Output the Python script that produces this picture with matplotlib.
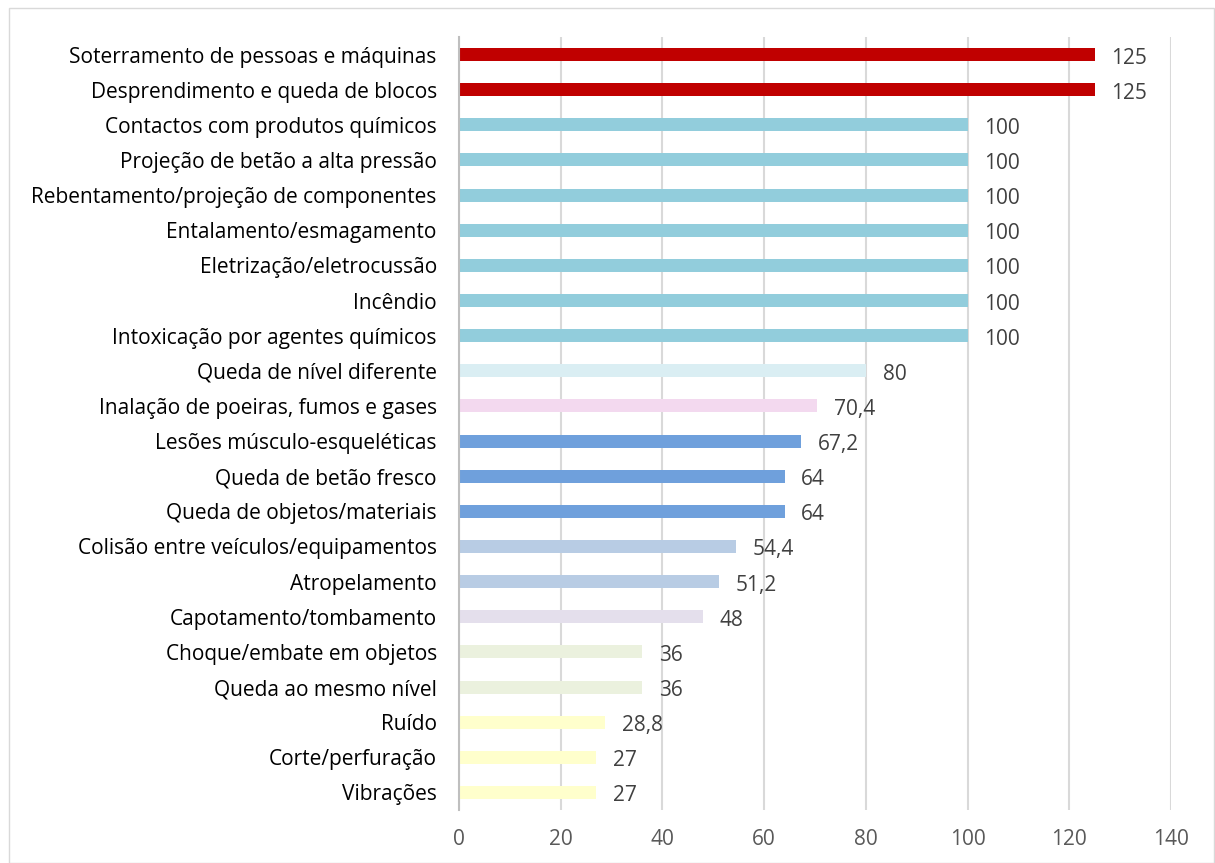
import matplotlib.pyplot as plt
from matplotlib.patches import Rectangle

plt.rcParams['font.family'] = ['Open Sans', 'DejaVu Sans']

riscos = [
    "Soterramento de pessoas e máquinas",
    "Desprendimento e queda de blocos",
    "Contactos com produtos químicos",
    "Projeção de betão a alta pressão",
    "Rebentamento/projeção de componentes",
    "Entalamento/esmagamento",
    "Eletrização/eletrocussão",
    "Incêndio",
    "Intoxicação por agentes químicos",
    "Queda de nível diferente",
    "Inalação de poeiras, fumos e gases",
    "Lesões músculo-esqueléticas",
    "Queda de betão fresco",
    "Queda de objetos/materiais",
    "Colisão entre veículos/equipamentos",
    "Atropelamento",
    "Capotamento/tombamento",
    "Choque/embate em objetos",
    "Queda ao mesmo nível",
    "Ruído",
    "Corte/perfuração",
    "Vibrações",
]
valores = [125, 125, 100, 100, 100, 100, 100, 100, 100, 80, 70.4, 67.2,
           64, 64, 54.4, 51.2, 48, 36, 36, 28.8, 27, 27]
cores = ["#C00000", "#C00000"] + ["#92CDDC"] * 7 + ["#DAEEF3", "#F3D9EF",
         "#6FA0DC", "#6FA0DC", "#6FA0DC", "#B8CCE4", "#B8CCE4", "#E4DFEC",
         "#EBF1DE", "#EBF1DE", "#FFFFCC", "#FFFFCC", "#FFFFCC"]

fig = plt.figure(figsize=(12.15, 8.63), dpi=100)
ax = fig.add_axes([0.3778, 0.0614, 0.586, 0.8957])

pos = list(range(len(riscos)))
ax.barh(pos, valores, height=0.37, color=cores, zorder=3)
ax.set_yticks(pos)
ax.set_yticklabels(riscos, fontsize=15, color="black")
ax.set_ylim(len(riscos) - 0.5, -0.5)
ax.set_xlim(0, 140)
ax.set_xticks(range(0, 141, 20))
ax.tick_params(axis='x', labelsize=15, labelcolor="#595959", length=0, pad=14)
ax.tick_params(axis='y', length=0, pad=16)
ax.grid(axis='x', color="#D9D9D9", linewidth=1.5, zorder=0)
for s in ['top', 'right', 'bottom']:
    ax.spines[s].set_visible(False)
ax.spines['left'].set_color("#BFBFBF")
ax.spines['left'].set_linewidth(1.5)
ax.spines['left'].set_zorder(4)

for p, v in zip(pos, valores):
    txt = f"{v:g}".replace(".", ",")
    ax.annotate(txt, (v, p), xytext=(12, -2.5), textcoords="offset points",
                va="center", ha="left", fontsize=15, color="#404040")

fig.patches.append(Rectangle((0.0074, 0.0), 0.9918, 0.9907, transform=fig.transFigure,
                             fill=False, edgecolor="#D9D9D9", linewidth=1))

fig.savefig("out.png", dpi=100)
